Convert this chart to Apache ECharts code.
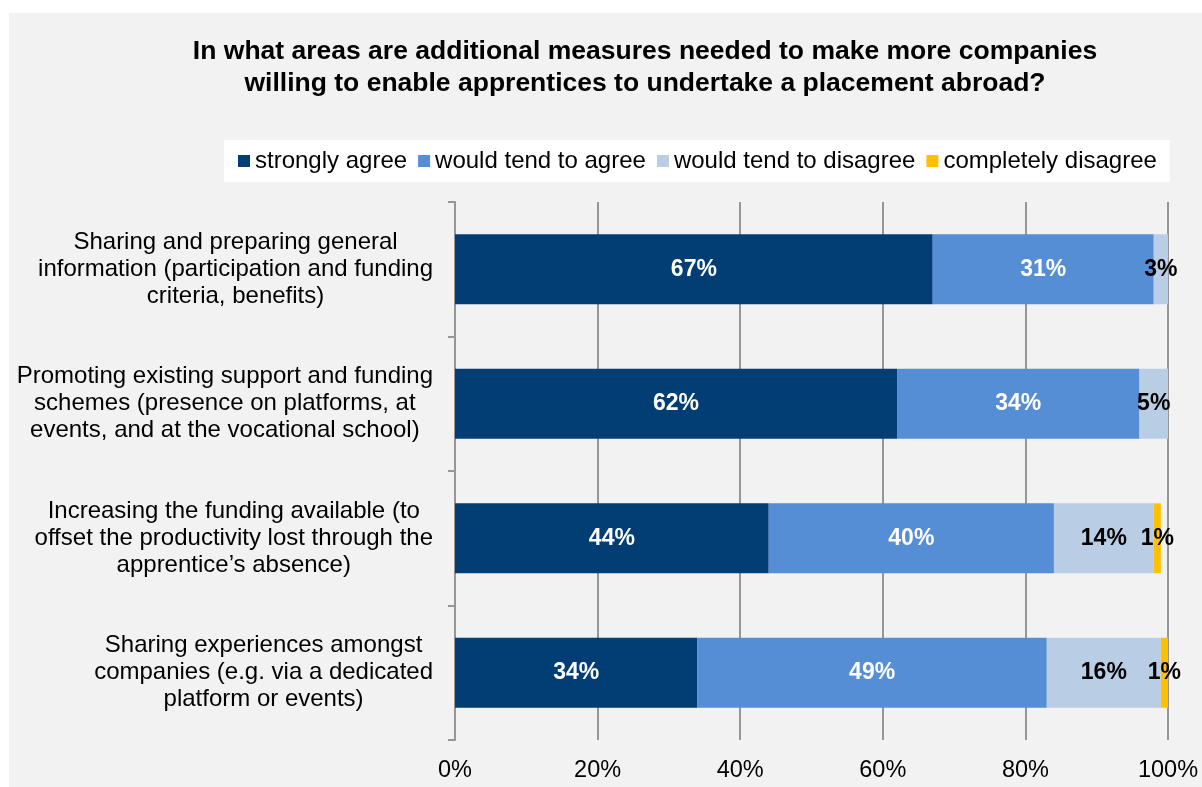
<!DOCTYPE html>
<html>
<head>
<meta charset="utf-8">
<script src="https://cdn.jsdelivr.net/npm/echarts@6/dist/echarts.min.js"></script>
<style>
  html, body { margin: 0; padding: 0; background: #ffffff; }
  #chart { width: 1202px; height: 787px; }
</style>
</head>
<body>
<div id="chart"></div>
<script>
// Survey answers per measure, in percent of companies
const categories = [
  'Sharing and preparing general\ninformation (participation and funding\ncriteria, benefits)',
  'Promoting existing support and funding\nschemes (presence on platforms, at\nevents, and at the vocational school)',
  'Increasing the funding available (to\noffset the productivity lost through the\napprentice\u2019s absence)',
  'Sharing experiences amongst\ncompanies (e.g. via a dedicated\nplatform or events)'
];
const seriesNames = ['strongly agree', 'would tend to agree', 'would tend to disagree', 'completely disagree'];
const stronglyAgree = [67, 62, 44, 34];
const tendToAgree = [31, 34, 40, 49];
const tendToDisagree = [3, 5, 14, 16];
const completelyDisagree = [null, null, 1, 1];
const xTicks = [0, 20, 40, 60, 80, 100];

const colors = ['#023d73', '#558ed5', '#b9cde5', '#ffc000'];
const labelColors = ['#ffffff', '#ffffff', '#000000', '#000000'];
const FONT = '"Liberation Sans", Arial, sans-serif';
const GRID_GRAY = '#969696';

const chart = echarts.init(document.getElementById('chart'), null, { renderer: 'canvas' });

const values = [stronglyAgree, tendToAgree, tendToDisagree, completelyDisagree];
const series = seriesNames.map((name, i) => ({
  name: name,
  type: 'bar',
  stack: 'total',
  barCategoryGap: '48%',
  data: values[i],
  itemStyle: { color: colors[i] },
  label: {
    show: true,
    position: 'inside',
    formatter: p => p.value + '%',
    color: labelColors[i],
    fontFamily: FONT,
    fontWeight: 'bold',
    fontSize: 23
  }
}));

chart.setOption({
  backgroundColor: '#ffffff',
  animation: false,
  color: colors,
  graphic: [{
    type: 'rect',
    z: -10,
    shape: { x: 9, y: 13, width: 1193, height: 774 },
    style: { fill: '#f2f2f2' }
  }],
  title: {
    text: 'In what areas are additional measures needed to make more companies\nwilling to enable apprentices to undertake a placement abroad?',
    left: 640,
    top: 31,
    textAlign: 'center',
    textStyle: {
      fontFamily: FONT,
      fontWeight: 'bold',
      fontSize: 26.5,
      lineHeight: 32,
      color: '#000000'
    }
  },
  legend: {
    data: seriesNames,
    left: 224,
    top: 140,
    backgroundColor: '#ffffff',
    padding: [9, 13, 9, 14],
    itemWidth: 12,
    itemHeight: 12,
    itemGap: 11,
    icon: 'rect',
    textStyle: { fontFamily: FONT, fontSize: 24, color: '#000000' }
  },
  grid: { left: 455, right: 34, top: 202, bottom: 47 },
  xAxis: {
    type: 'value',
    min: 0,
    max: 100,
    interval: 20,
    axisLine: { show: false },
    axisTick: { show: false },
    axisLabel: {
      formatter: v => (xTicks.includes(v) ? v + '%' : ''),
      fontFamily: FONT,
      fontSize: 23.5,
      color: '#000000',
      margin: 19
    },
    splitLine: { show: true, lineStyle: { color: GRID_GRAY, width: 2 } }
  },
  yAxis: {
    type: 'category',
    inverse: true,
    data: categories,
    axisLine: { show: true, lineStyle: { color: GRID_GRAY, width: 2 } },
    axisTick: { show: true, length: 7, lineStyle: { color: GRID_GRAY, width: 2 } },
    axisLabel: {
      // block sits right against the axis, each line centred within the block
      align: 'right',
      margin: 22,
      formatter: v => v.split('\n').map(line => '{c|' + line + '}').join('\n'),
      rich: {
        c: {
          align: 'center',
          fontFamily: FONT,
          fontSize: 24,
          lineHeight: 27,
          color: '#000000'
        }
      }
    }
  },
  series: series
});
</script>
</body>
</html>
